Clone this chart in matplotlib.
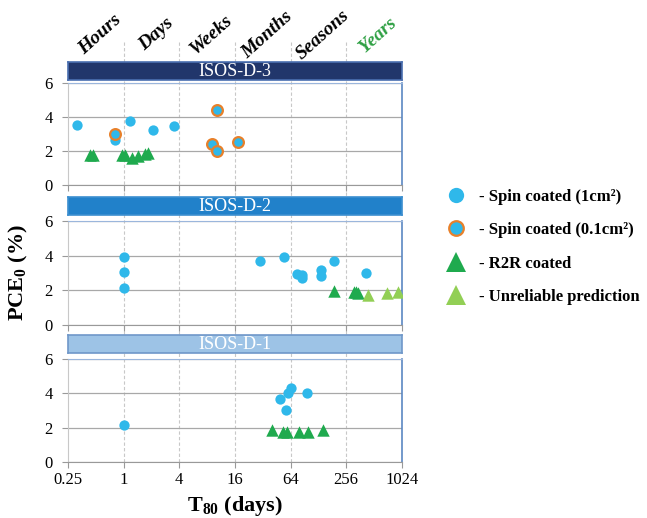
import matplotlib.pyplot as plt
from matplotlib.transforms import blended_transform_factory
from matplotlib.lines import Line2D

plt.rcParams['font.family'] = ['Liberation Serif', 'DejaVu Serif']
plt.rcParams['mathtext.fontset'] = 'custom'
plt.rcParams['mathtext.rm'] = 'Liberation Serif'
plt.rcParams['mathtext.bf'] = 'Liberation Serif:bold'

# time-scale labels on top
periods = ["Hours", "Days", "Weeks", "Months", "Seasons", "Years"]
period_centers = [0.5, 2, 8, 32, 128, 512]
period_colors = ["black", "black", "black", "black", "black", "#2ea043"]

x_ticks = [0.25, 1, 4, 16, 64, 256, 1024]
x_tick_labels = ["0.25", "1", "4", "16", "64", "256", "1024"]

# ISOS-D-3
d3_spin1_x = [0.31, 0.81, 1.17, 2.1, 3.5]
d3_spin1_y = [3.5, 2.65, 3.75, 3.25, 3.45]
d3_spin01_x = [0.81, 9.1, 10.3, 10.3, 17.4]
d3_spin01_y = [3.0, 2.38, 4.4, 2.0, 2.5]
d3_r2r_x = [0.43, 0.47, 0.96, 1.03, 1.23, 1.45, 1.7, 1.85]
d3_r2r_y = [1.75, 1.75, 1.75, 1.75, 1.6, 1.72, 1.8, 1.85]

# ISOS-D-2
d2_spin1_x = [1.0, 1.0, 1.0, 30, 55, 75, 85, 85, 137, 137, 190, 420]
d2_spin1_y = [3.9, 3.08, 2.15, 3.72, 3.95, 2.95, 2.9, 2.7, 3.2, 2.8, 3.72, 3.0]
d2_r2r_x = [190, 312, 330, 345]
d2_r2r_y = [1.95, 1.92, 1.9, 1.86]
d2_unrel_x = [440, 700, 935]
d2_unrel_y = [1.75, 1.85, 1.88]

# ISOS-D-1
d1_spin1_x = [1.0, 49.5, 57, 60, 65, 97]
d1_spin1_y = [2.15, 3.65, 3.05, 4.0, 4.3, 4.0]
d1_r2r_x = [40, 53, 59, 80, 99, 144]
d1_r2r_y = [1.85, 1.75, 1.75, 1.75, 1.75, 1.85]

panel_names = ["ISOS-D-3", "ISOS-D-2", "ISOS-D-1"]
header_faces = ["#21366b", "#2181ca", "#9dc3e6"]
header_edges = ["#4a6fb0", "#3c8fd0", "#6f97c9"]

c_spin = "#2fb8ea"
c_orange = "#e8802a"
c_r2r = "#1faa4e"
c_unrel = "#92cf55"

fig = plt.figure(figsize=(6.47, 5.18), dpi=100)

L, W = 0.105, 0.516
panel_rects = [(L, 0.643, W, 0.197), (L, 0.373, W, 0.200), (L, 0.108, W, 0.199)]
header_rects = [(L, 0.846, W, 0.034), (L, 0.585, W, 0.035), (L, 0.319, W, 0.034)]

# background axes carrying the dashed vertical grid through everything
bg = fig.add_axes((L, 0.108, W, 0.815), zorder=0)
bg.set_xscale("log", base=2)
bg.set_xlim(0.25, 1024)
bg.set_xticks(x_ticks[1:-1])
bg.grid(axis="x", color="#c8c8c8", linestyle=(0, (3, 2)), linewidth=0.8)
bg.tick_params(length=0, labelbottom=False, labelleft=False)
bg.set_yticks([])
for s in bg.spines.values():
    s.set_visible(False)

trans = blended_transform_factory(bg.transData, fig.transFigure)
for name, xc, col in zip(periods, period_centers, period_colors):
    bg.text(xc * 1.12, 0.933, name, transform=trans, rotation=42, ha="center", va="center",
            fontsize=14, fontweight="bold", style="italic", color=col)

axes = []
for i, rect in enumerate(panel_rects):
    ax = fig.add_axes(rect, zorder=2)
    ax.patch.set_alpha(0)
    ax.set_xscale("log", base=2)
    ax.set_xlim(0.25, 1024)
    ax.set_ylim(0, 6)
    ax.set_xticks(x_ticks)
    ax.set_yticks([0, 2, 4, 6])
    ax.minorticks_off()
    ax.grid(axis="y", color="#a8a8a8", linewidth=0.9)
    ax.set_axisbelow(True)
    ax.tick_params(colors="#999999", labelcolor="black", labelsize=12, length=4)
    ax.tick_params(axis="y", pad=7)
    if i == 2:
        ax.set_xticklabels(x_tick_labels)
    else:
        ax.set_xticklabels([])
    ax.spines["left"].set_color("#c8c8c8")
    ax.spines["bottom"].set_color("#999999")
    ax.spines["top"].set_color("#9bb6dc")
    ax.spines["right"].set_color("#5b87c2")
    ax.spines["right"].set_linewidth(1.2)
    axes.append(ax)

    hx = fig.add_axes(header_rects[i], zorder=3)
    hx.set_facecolor(header_faces[i])
    hx.set_xticks([])
    hx.set_yticks([])
    for s in hx.spines.values():
        s.set_color(header_edges[i])
        s.set_linewidth(1.2)
    hx.text(0.5, 0.45, panel_names[i], ha="center", va="center", color="white", fontsize=13,
            transform=hx.transAxes)

ax3, ax2, ax1 = axes
circ = dict(s=55, zorder=4, linewidths=0)
tri = dict(s=80, marker="^", zorder=3, linewidths=0)

ax3.scatter(d3_r2r_x, d3_r2r_y, color=c_r2r, **tri)
ax3.scatter(d3_spin1_x, d3_spin1_y, color=c_spin, **circ)
ax3.scatter(d3_spin01_x, d3_spin01_y, s=60, color=c_spin, edgecolors=c_orange, linewidths=1.6, zorder=5)

ax2.scatter(d2_r2r_x, d2_r2r_y, color=c_r2r, **tri)
ax2.scatter(d2_unrel_x, d2_unrel_y, color=c_unrel, **tri)
ax2.scatter(d2_spin1_x, d2_spin1_y, color=c_spin, **circ)

ax1.scatter(d1_r2r_x, d1_r2r_y, color=c_r2r, **tri)
ax1.scatter(d1_spin1_x, d1_spin1_y, color=c_spin, **circ)

ax2.set_ylabel("PCE$_\\mathbf{0}$ (%)", fontsize=16, fontweight="bold", labelpad=10)
ax1.set_xlabel("T$_\\mathbf{80}$ (days)", fontsize=16, fontweight="bold", labelpad=4)

handles = [
    Line2D([], [], marker="o", linestyle="none", markersize=11, markerfacecolor=c_spin, markeredgewidth=0),
    Line2D([], [], marker="o", linestyle="none", markersize=10.5, markerfacecolor=c_spin,
           markeredgecolor=c_orange, markeredgewidth=1.6),
    Line2D([], [], marker="^", linestyle="none", markersize=14, markerfacecolor=c_r2r, markeredgewidth=0),
    Line2D([], [], marker="^", linestyle="none", markersize=14, markerfacecolor=c_unrel, markeredgewidth=0),
]
labels = ["- Spin coated (1cm²)", "- Spin coated (0.1cm²)",
          "- R2R coated", "- Unreliable prediction"]
fig.legend(handles, labels, loc="upper left", bbox_to_anchor=(0.662, 0.665), frameon=False,
           prop=dict(weight="bold", size=12), labelspacing=1.05, handletextpad=0.65, handlelength=1.5)

fig.savefig("out.png", dpi=100)
